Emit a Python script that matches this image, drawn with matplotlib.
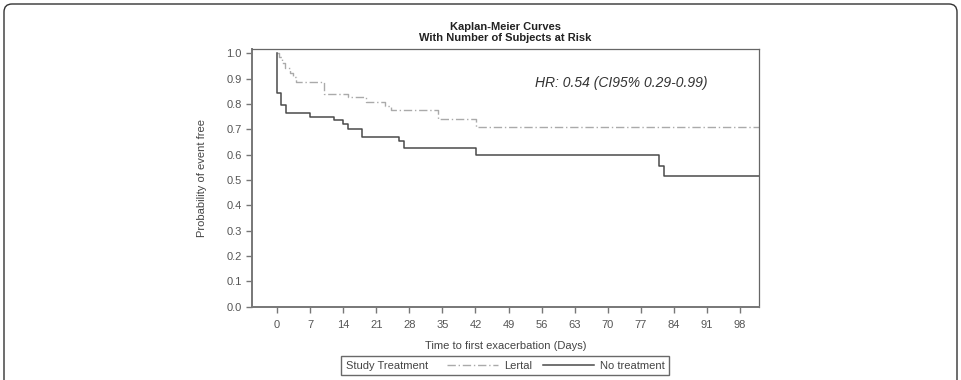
import matplotlib
matplotlib.use("Agg")
import matplotlib.pyplot as plt
from matplotlib.lines import Line2D
from matplotlib.patches import FancyBboxPatch
from matplotlib.offsetbox import HPacker

plt.rcParams['font.family'] = ['Liberation Sans', 'DejaVu Sans']

# event times (days) and survival right after each step
LERTAL_T = [0, 0.5, 1.0, 1.7, 2.75, 3.3, 4.0, 10.0, 15.1, 18.8, 22.9, 24.1, 34.1, 42.1]
LERTAL_S = [1.0, 0.987, 0.961, 0.941, 0.923, 0.908, 0.888, 0.839, 0.826, 0.809, 0.792, 0.776, 0.743, 0.710]
NOTRT_T = [0, 0.1, 0.9, 1.9, 7.0, 12.1, 13.9, 15.1, 17.9, 25.8, 26.9, 42.1, 80.9, 81.9]
NOTRT_S = [1.0, 0.845, 0.795, 0.766, 0.747, 0.737, 0.721, 0.701, 0.670, 0.655, 0.625, 0.597, 0.555, 0.516]
END_DAY = 102
XTICKS = list(range(0, 99, 7))
YTICKS = [i / 10 for i in range(11)]

TXT = '#555555'

fig = plt.figure(figsize=(9.61, 3.80), dpi=100)
ax = fig.add_axes([0.2622, 0.1908, 0.5276, 0.680])

ax.step(LERTAL_T + [END_DAY], LERTAL_S + [LERTAL_S[-1]], where='post',
        color='#aaaaaa', lw=1.0, linestyle=(0, (6, 2, 1, 2)))
ax.step(NOTRT_T + [END_DAY], NOTRT_S + [NOTRT_S[-1]], where='post',
        color='#4a4a4a', lw=1.1)

ax.set_xlim(-5.3, END_DAY)
ax.set_ylim(-0.003, 1.017)
ax.set_xticks(XTICKS)
ax.set_yticks(YTICKS)
ax.set_yticklabels(['%.1f' % v for v in YTICKS])
ax.tick_params(colors='#777777', labelcolor=TXT, labelsize=8, length=4, width=1)
ax.tick_params(axis='x', pad=5)

for s in ['left', 'bottom']:
    ax.spines[s].set_color('#777777')
    ax.spines[s].set_linewidth(1.4)
for s in ['top', 'right']:
    ax.spines[s].set_color('#666666')
    ax.spines[s].set_linewidth(0.9)

ax.set_xlabel('Time to first exacerbation (Days)', fontsize=8, color='#444444', labelpad=8)
ax.set_ylabel('Probability of event free', fontsize=8, color='#444444', labelpad=14)
ax.set_title('Kaplan-Meier Curves\nWith Number of Subjects at Risk',
             fontsize=8, fontweight='bold', color='#222222', pad=6, linespacing=1.1)

ax.text(54.6, 0.883, 'HR: 0.54 (CI95% 0.29-0.99)', fontsize=10, style='italic',
        color='#333333', ha='left', va='center')

handles = [Line2D([], [], color='#aaaaaa', lw=1.0, linestyle=(0, (6, 2, 1, 2))),
           Line2D([], [], color='#4a4a4a', lw=1.1)]
leg = fig.legend(handles, ['Lertal', 'No treatment'], title='Study Treatment', ncol=2,
                 loc='center', bbox_to_anchor=(505 / 961, 0.037), fontsize=8,
                 title_fontsize=8, handlelength=4.6, handletextpad=0.5,
                 columnspacing=1.0, borderpad=0.4, fancybox=False, frameon=True)
leg.get_frame().set_edgecolor('#444444')
leg.get_frame().set_linewidth(1.0)
for t in leg.get_texts():
    t.set_color('#444444')
leg.get_title().set_color('#444444')
# put the title to the left of the entries
old = leg._legend_box
kids = old.get_children()
newbox = HPacker(pad=old.pad, sep=14, align='center', children=kids)
newbox.set_figure(fig)
newbox.set_offset(leg._findoffset)
leg._legend_box = newbox

# rounded panel border
fig.patches.append(FancyBboxPatch((0.04, -0.3), 9.53, 4.06,
                                  boxstyle='round,pad=0,rounding_size=0.08',
                                  transform=fig.dpi_scale_trans, fill=False,
                                  edgecolor='#333333', lw=1.0))

fig.savefig('out.png', dpi=100)
